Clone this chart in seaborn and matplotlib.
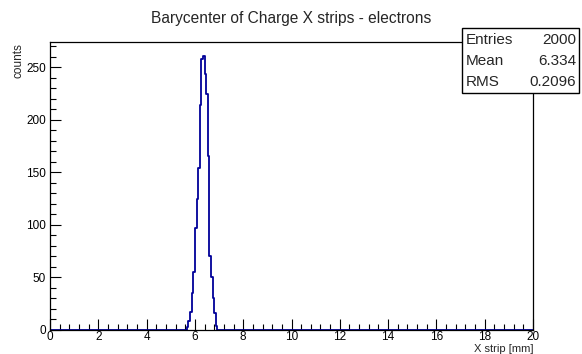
import numpy as np
import matplotlib
matplotlib.use("Agg")
import matplotlib.pyplot as plt
import seaborn as sns
from matplotlib.ticker import MultipleLocator
from matplotlib.patches import Rectangle

# histogram: 300 bins over 0-20 mm, the non-empty bins start at bin 85
n_bins = 300
x_range = (0, 20)
first_bin = 85
counts = [3, 9, 17, 35, 55, 97, 125, 154, 214, 258, 261, 244, 225, 166, 70, 50, 30, 16, 4]

title = "Barycenter of Charge X strips - electrons"
stats_labels = ["Entries", "Mean", "RMS"]
stats_values = ["2000", "6.334", "0.2096"]

sns.set_style("ticks")
plt.rcParams['font.family'] = ['Liberation Sans', 'DejaVu Sans']

W, H = 582, 354
fig = plt.figure(figsize=(W / 100, H / 100), dpi=100)
ax = fig.add_axes([50 / W, 1 - 330 / H, 483 / W, 288 / H])

bw = (x_range[1] - x_range[0]) / n_bins
centers = (first_bin + np.arange(len(counts)) + 0.5) * bw

sns.histplot(x=centers, weights=counts, bins=n_bins, binrange=x_range,
             element="step", fill=False, color="#000099", linewidth=1.3, ax=ax)

ax.set_xlim(*x_range)
ax.set_ylim(0, 1.05 * max(counts))
ax.xaxis.set_major_locator(MultipleLocator(2))
ax.xaxis.set_minor_locator(MultipleLocator(0.4))
ax.yaxis.set_major_locator(MultipleLocator(50))
ax.yaxis.set_minor_locator(MultipleLocator(10))
ax.tick_params(which="both", direction="in", top=False, right=False, width=0.8,
               labelsize=8.5, colors="black")
ax.tick_params(which="major", length=8)
ax.tick_params(axis="x", pad=0.5)
ax.tick_params(axis="y", pad=3)
ax.tick_params(which="minor", length=4)
for s in ax.spines.values():
    s.set_visible(True)
    s.set_linewidth(0.9)
    s.set_color("black")
ax.set_xlabel("")
ax.set_ylabel("")

fig.text(0.5, 1 - 18 / H, title, ha="center", va="center", fontsize=11.2)
fig.text(533 / W, 0.5 / H, "X strip [mm]", ha="right", va="bottom", fontsize=8)
fig.text(18 / W, 1 - 43 / H, "counts", rotation=90, ha="center", va="top", fontsize=8.5)

# stats box
fig.patches.append(Rectangle((462 / W, 1 - 93 / H), 117 / W, 65 / H,
                             transform=fig.transFigure, facecolor="white",
                             edgecolor="black", linewidth=1))
for i, (lab, val) in enumerate(zip(stats_labels, stats_values)):
    y = 1 - (40 + 21 * i) / H
    fig.text(466 / W, y, lab, ha="left", va="center", fontsize=11)
    fig.text(576 / W, y, val, ha="right", va="center", fontsize=11)

plt.savefig("out.png", dpi=100)
